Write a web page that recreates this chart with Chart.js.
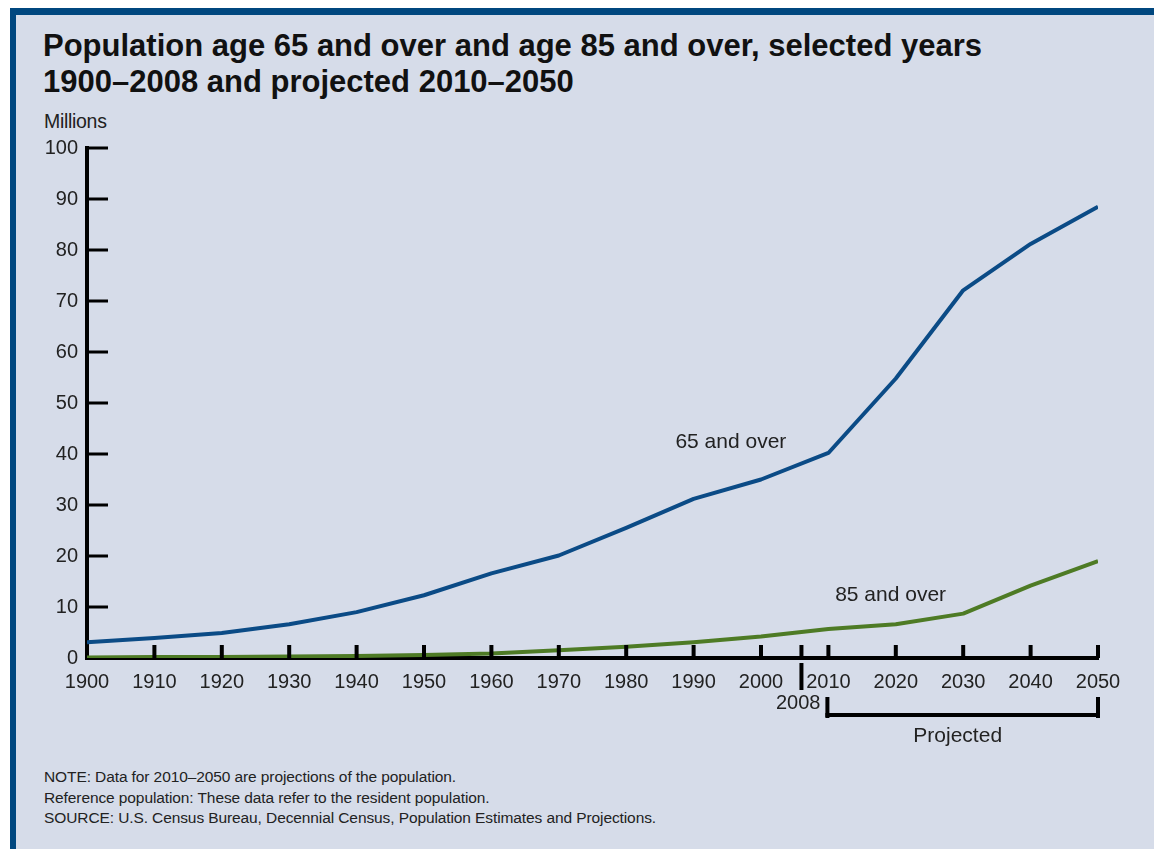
<!DOCTYPE html>
<html>
<head>
<meta charset="utf-8">
<script src="https://cdn.jsdelivr.net/npm/chart.js@4.4.0/dist/chart.umd.min.js"></script>
<style>
  html, body { margin: 0; padding: 0; background: #fff; }
  body { width: 1154px; height: 849px; position: relative; overflow: hidden; font-family: "Liberation Sans", Arial, sans-serif; }
  #frame { position: absolute; left: 10px; top: 8px; width: 1160px; height: 834px;
           background: #d6dce9; border-top: 7px solid #00477f; border-left: 6px solid #00477f; border-bottom: 4px solid #00477f; }
  #title { position: absolute; left: 43px; top: 28px; font-weight: bold; font-size: 31px; line-height: 36px; color: #111; }
  #units { position: absolute; left: 44px; top: 110px; font-size: 19.5px; color: #222; letter-spacing: -0.3px; }
  #notes { position: absolute; left: 44px; top: 767px; font-size: 15.5px; line-height: 20.5px; color: #222; letter-spacing: -0.1px; }
  #wrap { position: absolute; left: 0; top: 0; width: 1154px; height: 849px; }
</style>
</head>
<body>
<div id="frame"></div>
<div id="title">Population age 65 and over and age 85 and over, selected years<br>1900–2008 and projected 2010–2050</div>
<div id="units">Millions</div>
<div id="notes">NOTE: Data for 2010–2050 are projections of the population.<br>Reference population: These data refer to the resident population.<br>SOURCE: U.S. Census Bureau, Decennial Census, Population Estimates and Projections.</div>
<div id="wrap"><canvas id="chartPopulasi"></canvas></div>
<script>
// Data (juta jiwa)
const tahun = [1900, 1910, 1920, 1930, 1940, 1950, 1960, 1970, 1980, 1990, 2000, 2010, 2020, 2030, 2040, 2050];
const usia65 = [3.1, 3.9, 4.9, 6.6, 9.0, 12.3, 16.6, 20.1, 25.5, 31.2, 35.0, 40.2, 54.8, 72.1, 81.2, 88.5];
const usia85 = [0.1, 0.2, 0.2, 0.3, 0.4, 0.6, 0.9, 1.5, 2.2, 3.1, 4.2, 5.7, 6.6, 8.7, 14.2, 19.0];
const label65 = "65 and over";
const label85 = "85 and over";

const fontTick = { family: "Liberation Sans, Arial, sans-serif", size: 20 };

// gambar tick ke dalam, tanda 2008, kurung "Projected", label seri
const dekorasi = {
  id: "dekorasi",
  afterDraw(chart) {
    const ctx = chart.ctx;
    const x = chart.scales.x, y = chart.scales.y;
    const a = chart.chartArea;
    ctx.save();
    ctx.fillStyle = "#000";
    // tick y (ke kanan)
    for (let v = 10; v <= 100; v += 10) {
      const py = y.getPixelForValue(v);
      ctx.fillRect(a.left, py - 1.5, 21, 3);
    }
    // tick x (ke atas)
    for (let t = 1910; t <= 2050; t += 10) {
      const px = x.getPixelForValue(t);
      ctx.fillRect(px - 2, a.bottom - 13, 4, 13);
    }
    // tanda 2008
    const p08 = x.getPixelForValue(2006);
    ctx.fillRect(p08 - 2, a.bottom - 13, 4, 13);
    ctx.fillRect(p08 - 2, a.bottom + 5, 4, 27);
    // kurung projected
    const pa = x.getPixelForValue(2010) - 3, pb = x.getPixelForValue(2050);
    ctx.fillRect(pa, a.bottom + 39, 4, 21);
    ctx.fillRect(pb - 2, a.bottom + 39, 4, 21);
    ctx.fillRect(pa, a.bottom + 55, pb + 2 - pa, 4);

    ctx.font = "20px Liberation Sans, Arial, sans-serif";
    ctx.fillStyle = "#222";
    ctx.textBaseline = "middle";
    ctx.textAlign = "right";
    ctx.fillText("2008", p08 + 19, a.bottom + 45);
    ctx.font = "21px Liberation Sans, Arial, sans-serif";
    ctx.textAlign = "center";
    ctx.fillText("Projected", (pa + pb) / 2 - 4, a.bottom + 78);
    ctx.textAlign = "left";
    ctx.fillText(label65, x.getPixelForValue(1987.3), y.getPixelForValue(42.3));
    ctx.fillText(label85, x.getPixelForValue(2011), y.getPixelForValue(12.3));
    ctx.restore();
  }
};

new Chart(document.getElementById("chartPopulasi"), {
  type: "line",
  data: {
    labels: tahun,
    datasets: [
      {
        label: label65,
        data: tahun.map((t, i) => ({ x: t, y: usia65[i] })),
        borderColor: "#0b4b86",
        borderWidth: 4,
        pointRadius: 0,
        tension: 0,
        borderJoinStyle: "round",
      },
      {
        label: label85,
        data: tahun.map((t, i) => ({ x: t, y: usia85[i] })),
        borderColor: "#4e7b25",
        borderWidth: 4,
        pointRadius: 0,
        tension: 0,
        borderJoinStyle: "round",
      },
    ],
  },
  options: {
    responsive: true,
    maintainAspectRatio: false,
    animation: false,
    layout: { padding: { left: 37, right: 56, top: 148, bottom: 151 } },
    plugins: { legend: { display: false }, tooltip: { enabled: false } },
    scales: {
      x: {
        type: "linear",
        min: 1900,
        max: 2050,
        afterFit: (s) => { s.height = 40; },
        grid: { display: false, drawTicks: false },
        border: { display: true, color: "#000", width: 4 },
        ticks: {
          stepSize: 10,
          autoSkip: false,
          maxRotation: 0,
          padding: 12,
          color: "#222",
          font: fontTick,
          callback: (v) => String(v),
        },
      },
      y: {
        min: 0,
        max: 100,
        afterFit: (s) => { s.width = 50; },
        grid: { display: false, drawTicks: false },
        border: { display: true, color: "#000", width: 4 },
        ticks: { stepSize: 10, padding: 9, color: "#222", font: fontTick },
      },
    },
  },
  plugins: [dekorasi],
});
</script>
</body>
</html>
